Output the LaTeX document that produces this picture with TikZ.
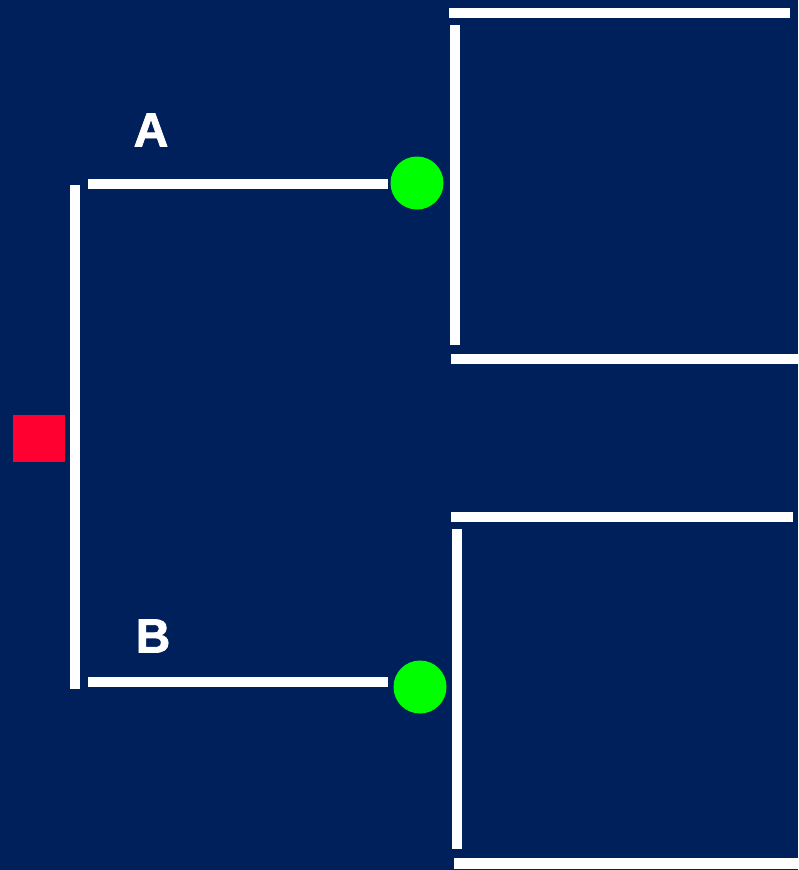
\documentclass[tikz,border=0pt]{standalone}
\usepackage{fontspec}
\newfontfamily\tagfont[BoldFeatures={FakeBold=1.6}]{Liberation Sans}
\usetikzlibrary{positioning}
\definecolor{navy}{HTML}{00205B}
\definecolor{alarm}{HTML}{FF0030}
\definecolor{lime}{HTML}{00FF00}

\begin{document}
\begin{tikzpicture}[x=1pt, y=-1pt,
      bar/.style={draw=white, line width=10.5pt},
      root/.style={fill=alarm, minimum width=52pt, minimum height=47pt, inner sep=0pt},
      leaf/.style={circle, fill=lime, minimum size=53pt, inner sep=0pt},
      tag/.style={text=white, inner sep=0pt,
        font=\tagfont\bfseries\fontsize{48}{48}\selectfont}]
    \fill[navy] (0,0) rectangle (798,870);
    \useasboundingbox (0,0) rectangle (798,870);
    % start and the two branches
    \node[root] (r) at (39,438) {};
    \node[leaf] (ga) at (417,183) {};
    \node[leaf] (gb) at (420,687) {};
    \node[tag] (la) at (151,130) {A};
    \node[tag] (lb) at (153,636) {B};
    \coordinate (t) at (75,185);
    \coordinate (b) at (75,689);
    \coordinate (a0) at (88,184);
    \coordinate (a1) at (388,184);
    \coordinate (b0) at (88,682);
    \coordinate (b1) at (388,682);
    \draw[bar] (t) -- (b);
    \draw[bar] (a0) -- (a1);
    \draw[bar] (b0) -- (b1);
    % upper bracket
    \coordinate (ua) at (449,13);
    \coordinate (ub) at (790,13);
    \coordinate (uc) at (455,25);
    \coordinate (ud) at (455,345);
    \coordinate (ue) at (451,359);
    \coordinate (uf) at (798,359);
    \draw[bar] (ua) -- (ub);
    \draw[bar] (uc) -- (ud);
    \draw[bar] (ue) -- (uf);
    % lower bracket
    \coordinate (la0) at (451,517);
    \coordinate (la1) at (793,517);
    \coordinate (lc) at (457,529);
    \coordinate (ld) at (457,849);
    \coordinate (le) at (454,863.5);
    \coordinate (lf) at (798,863.5);
    \draw[bar] (la0) -- (la1);
    \draw[bar] (lc) -- (ld);
    \draw[bar] (le) -- (lf);
  \end{tikzpicture}
\end{document}
